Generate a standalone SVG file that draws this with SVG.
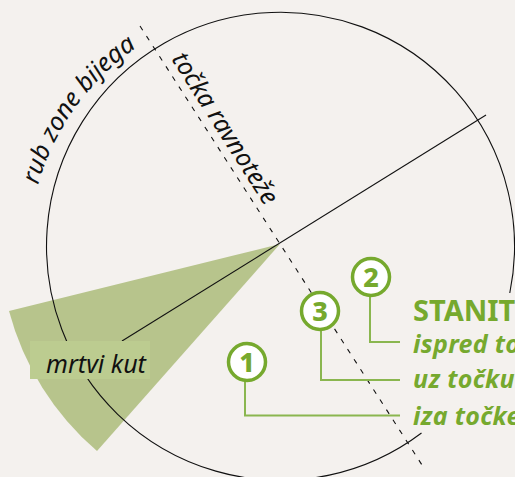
<svg xmlns="http://www.w3.org/2000/svg" width="515" height="477" viewBox="0 0 515 477">
<style>
.k{fill:none;stroke:#111;stroke-width:1.1}
.g{fill:none;stroke:#8ab64f;stroke-width:2}
.c{fill:#fff;stroke:#76a92e;stroke-width:3.5}
.n{font:800 27px "Noto Sans",sans-serif;fill:#76a92e;text-anchor:middle}
.h{font:700 29px "Noto Sans",sans-serif;fill:#76a92e}
.i{font:italic 700 25px "Noto Sans",sans-serif;fill:#76a92e;letter-spacing:.3px}
.t{font:italic 400 25px "Noto Sans",sans-serif;fill:#111}
</style>
<defs><path id="arc" d="M38 185A250 250 0 0 1 145 42"/></defs>
<rect width="515" height="477" fill="#f4f1ee"/>
<path id="wedge" d="M280 244L9 311A279 279 0 0 0 97 451Z" fill="#b7c48c"/>
<g id="connectors">
<path class="k" d="M421.5 433A234 234 0 1 1 509.8 293"/>
<path class="k" d="M486 115L122 341"/>
<path class="k" stroke-dasharray="5 7" d="M140 26L422 465"/>
<path class="g" d="M370 297V342H400M321 330V380H400M245 381V415.5H400"/>
</g>
<g id="label-mrtvi"><rect x="30" y="341" width="120" height="38" fill="#bccc90"/><text class="t" x="46" y="373">mrtvi kut</text></g>
<text class="t"><textPath href="#arc">rub zone bijega</textPath></text>
<text class="t" transform="translate(171 59) rotate(57.5)">točka ravnoteže</text>
<g id="n1"><circle class="c" cx="247" cy="362" r="18.5"/><text class="n" x="247" y="372">1</text></g>
<g id="n2"><circle class="c" cx="371" cy="277" r="18.5"/><text class="n" x="371" y="287">2</text></g>
<g id="n3"><circle class="c" cx="320" cy="311" r="18.5"/><text class="n" x="320" y="321">3</text></g>
<g id="legend">
<text class="h" x="413" y="320.5">STANIT</text>
<text class="i" x="413" y="353">ispred to</text>
<text class="i" x="413" y="388">uz točku</text>
<text class="i" x="413" y="425">iza točke</text>
</g>
</svg>
